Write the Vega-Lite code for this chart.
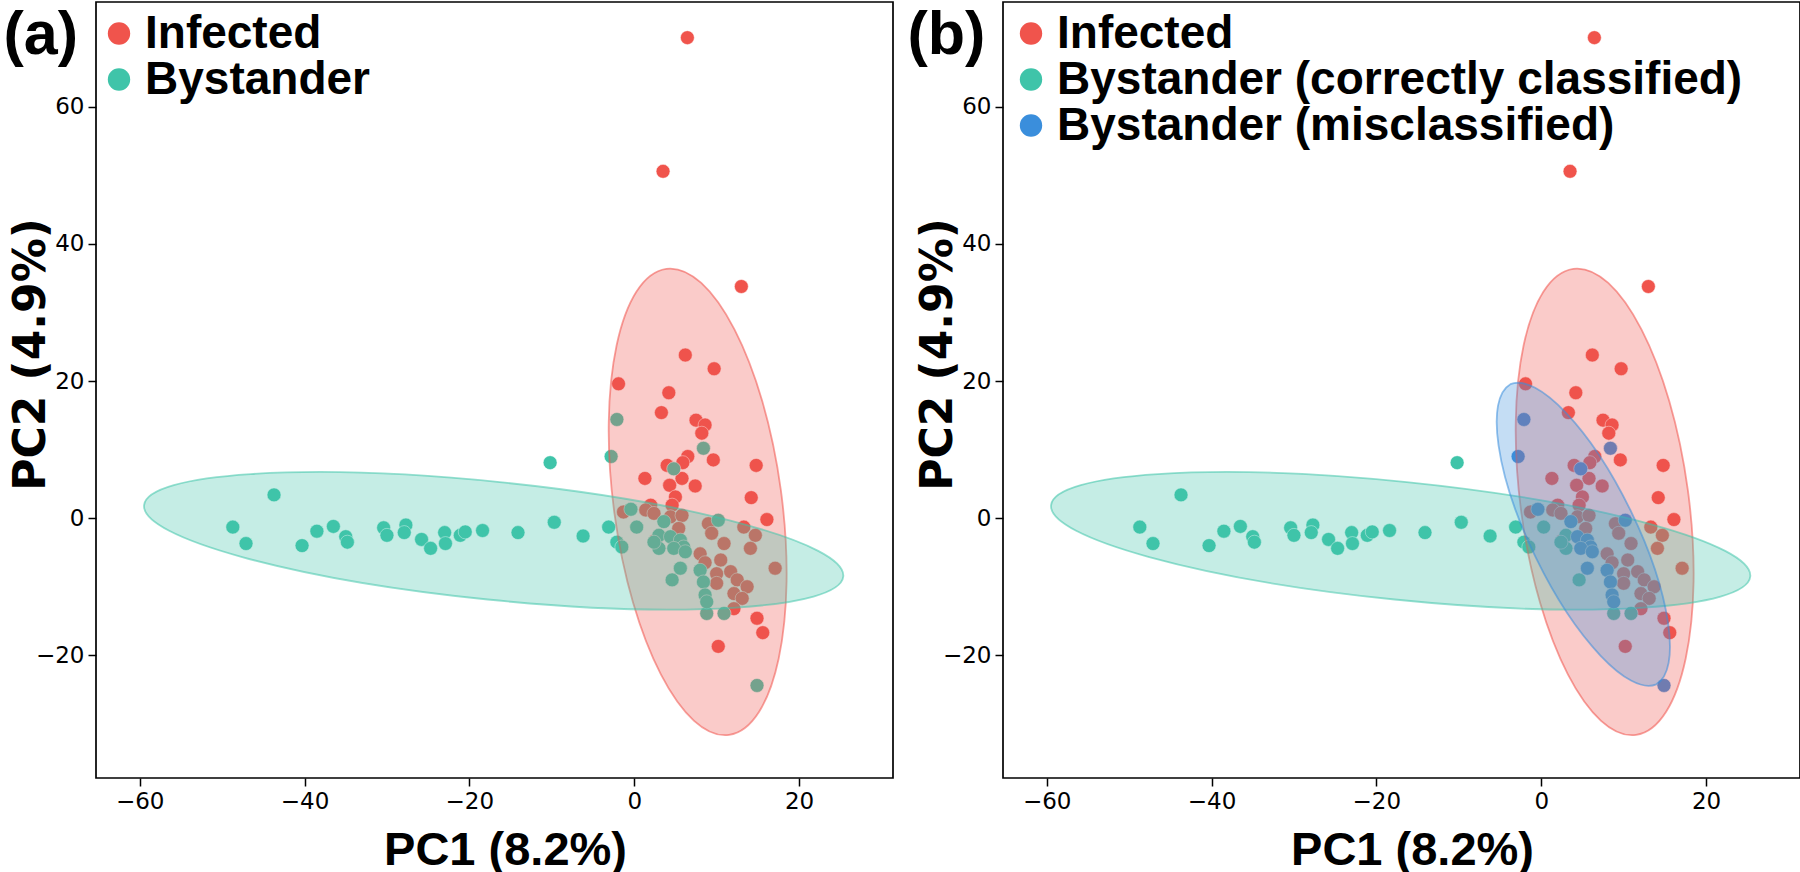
{
  "$schema": "https://vega.github.io/schema/vega-lite/v6.json",
  "background": "white",
  "padding": {"left": 2, "top": 1, "right": 0, "bottom": 0},
  "bounds": "flush",
  "spacing": 110,
  "config": {
    "view": {"stroke": "#000", "strokeWidth": 1.7},
    "axis": {"grid": false, "domain": false, "ticks": true, "tickColor": "#000", "tickSize": 8, "tickWidth": 1.5, "labelFont": "DejaVu Sans", "labelFontSize": 23, "labelColor": "#000", "labelPadding": 4, "titleColor": "#000", "titleFontWeight": "bold"},
    "legend": {"orient": "none", "title": null, "symbolType": "circle", "symbolSize": 500, "symbolOpacity": 1, "symbolStrokeWidth": 0, "labelFont": "Liberation Sans", "labelFontSize": 46, "labelFontWeight": "bold", "labelColor": "#000", "labelOffset": 3, "labelLimit": 0, "rowPadding": -2.5, "padding": 0}
  },
  "resolve": {"scale": {"color": "independent"}, "legend": {"color": "independent"}},
  "datasets": {
    "pts": [
      {"x":6.45,"y":70.1,"a":"Infected","b":"Infected"},
      {"x":3.5,"y":50.6,"a":"Infected","b":"Infected"},
      {"x":13.0,"y":33.8,"a":"Infected","b":"Infected"},
      {"x":6.2,"y":23.8,"a":"Infected","b":"Infected"},
      {"x":9.7,"y":21.8,"a":"Infected","b":"Infected"},
      {"x":-1.9,"y":19.6,"a":"Infected","b":"Infected"},
      {"x":4.2,"y":18.3,"a":"Infected","b":"Infected"},
      {"x":3.3,"y":15.4,"a":"Infected","b":"Infected"},
      {"x":7.5,"y":14.3,"a":"Infected","b":"Infected"},
      {"x":8.6,"y":13.6,"a":"Infected","b":"Infected"},
      {"x":8.2,"y":12.4,"a":"Infected","b":"Infected"},
      {"x":9.6,"y":8.5,"a":"Infected","b":"Infected"},
      {"x":6.5,"y":9.0,"a":"Infected","b":"Infected"},
      {"x":5.9,"y":8.1,"a":"Infected","b":"Infected"},
      {"x":4.0,"y":7.7,"a":"Infected","b":"Infected"},
      {"x":14.8,"y":7.7,"a":"Infected","b":"Infected"},
      {"x":1.3,"y":5.8,"a":"Infected","b":"Infected"},
      {"x":5.8,"y":5.8,"a":"Infected","b":"Infected"},
      {"x":4.3,"y":4.8,"a":"Infected","b":"Infected"},
      {"x":7.4,"y":4.7,"a":"Infected","b":"Infected"},
      {"x":14.2,"y":3.0,"a":"Infected","b":"Infected"},
      {"x":5.0,"y":3.1,"a":"Infected","b":"Infected"},
      {"x":4.6,"y":1.9,"a":"Infected","b":"Infected"},
      {"x":2.0,"y":1.9,"a":"Infected","b":"Infected"},
      {"x":16.1,"y":-0.2,"a":"Infected","b":"Infected"},
      {"x":-1.3,"y":0.9,"a":"Infected","b":"Infected"},
      {"x":1.4,"y":1.2,"a":"Infected","b":"Infected"},
      {"x":2.4,"y":0.7,"a":"Infected","b":"Infected"},
      {"x":4.4,"y":0.2,"a":"Infected","b":"Infected"},
      {"x":5.8,"y":0.4,"a":"Infected","b":"Infected"},
      {"x":9.0,"y":-0.8,"a":"Infected","b":"Infected"},
      {"x":9.4,"y":-2.2,"a":"Infected","b":"Infected"},
      {"x":13.3,"y":-1.3,"a":"Infected","b":"Infected"},
      {"x":14.7,"y":-2.5,"a":"Infected","b":"Infected"},
      {"x":14.1,"y":-4.4,"a":"Infected","b":"Infected"},
      {"x":10.9,"y":-3.7,"a":"Infected","b":"Infected"},
      {"x":2.6,"y":-3.2,"a":"Infected","b":"Infected"},
      {"x":8.0,"y":-5.2,"a":"Infected","b":"Infected"},
      {"x":8.6,"y":-6.5,"a":"Infected","b":"Infected"},
      {"x":10.5,"y":-6.1,"a":"Infected","b":"Infected"},
      {"x":17.1,"y":-7.3,"a":"Infected","b":"Infected"},
      {"x":10.0,"y":-8.1,"a":"Infected","b":"Infected"},
      {"x":11.7,"y":-7.8,"a":"Infected","b":"Infected"},
      {"x":12.5,"y":-9.0,"a":"Infected","b":"Infected"},
      {"x":13.7,"y":-10.0,"a":"Infected","b":"Infected"},
      {"x":12.1,"y":-11.0,"a":"Infected","b":"Infected"},
      {"x":10.0,"y":-9.5,"a":"Infected","b":"Infected"},
      {"x":13.1,"y":-11.7,"a":"Infected","b":"Infected"},
      {"x":12.1,"y":-13.2,"a":"Infected","b":"Infected"},
      {"x":14.9,"y":-14.6,"a":"Infected","b":"Infected"},
      {"x":15.6,"y":-16.7,"a":"Infected","b":"Infected"},
      {"x":10.2,"y":-18.7,"a":"Infected","b":"Infected"},
      {"x":5.4,"y":-1.5,"a":"Infected","b":"Infected"},
      {"x":-10.2,"y":8.1,"a":"Bystander","b":"Bystander (correctly classified)"},
      {"x":-43.7,"y":3.4,"a":"Bystander","b":"Bystander (correctly classified)"},
      {"x":-48.7,"y":-1.3,"a":"Bystander","b":"Bystander (correctly classified)"},
      {"x":-47.1,"y":-3.7,"a":"Bystander","b":"Bystander (correctly classified)"},
      {"x":-40.3,"y":-4.0,"a":"Bystander","b":"Bystander (correctly classified)"},
      {"x":-38.5,"y":-1.9,"a":"Bystander","b":"Bystander (correctly classified)"},
      {"x":-36.5,"y":-1.2,"a":"Bystander","b":"Bystander (correctly classified)"},
      {"x":-35.0,"y":-2.7,"a":"Bystander","b":"Bystander (correctly classified)"},
      {"x":-34.8,"y":-3.5,"a":"Bystander","b":"Bystander (correctly classified)"},
      {"x":-30.4,"y":-1.4,"a":"Bystander","b":"Bystander (correctly classified)"},
      {"x":-30.0,"y":-2.5,"a":"Bystander","b":"Bystander (correctly classified)"},
      {"x":-27.7,"y":-1.0,"a":"Bystander","b":"Bystander (correctly classified)"},
      {"x":-27.9,"y":-2.1,"a":"Bystander","b":"Bystander (correctly classified)"},
      {"x":-25.8,"y":-3.1,"a":"Bystander","b":"Bystander (correctly classified)"},
      {"x":-24.7,"y":-4.4,"a":"Bystander","b":"Bystander (correctly classified)"},
      {"x":-23.0,"y":-2.1,"a":"Bystander","b":"Bystander (correctly classified)"},
      {"x":-22.9,"y":-3.7,"a":"Bystander","b":"Bystander (correctly classified)"},
      {"x":-21.1,"y":-2.5,"a":"Bystander","b":"Bystander (correctly classified)"},
      {"x":-20.5,"y":-2.0,"a":"Bystander","b":"Bystander (correctly classified)"},
      {"x":-18.4,"y":-1.8,"a":"Bystander","b":"Bystander (correctly classified)"},
      {"x":-14.1,"y":-2.1,"a":"Bystander","b":"Bystander (correctly classified)"},
      {"x":-9.7,"y":-0.6,"a":"Bystander","b":"Bystander (correctly classified)"},
      {"x":-6.2,"y":-2.6,"a":"Bystander","b":"Bystander (correctly classified)"},
      {"x":-3.1,"y":-1.3,"a":"Bystander","b":"Bystander (correctly classified)"},
      {"x":0.3,"y":-1.3,"a":"Bystander","b":"Bystander (correctly classified)"},
      {"x":-2.1,"y":-3.5,"a":"Bystander","b":"Bystander (correctly classified)"},
      {"x":-1.5,"y":-4.2,"a":"Bystander","b":"Bystander (correctly classified)"},
      {"x":3.0,"y":-2.5,"a":"Bystander","b":"Bystander (correctly classified)"},
      {"x":3.0,"y":-4.4,"a":"Bystander","b":"Bystander (correctly classified)"},
      {"x":2.4,"y":-3.5,"a":"Bystander","b":"Bystander (correctly classified)"},
      {"x":4.6,"y":-9.0,"a":"Bystander","b":"Bystander (correctly classified)"},
      {"x":8.8,"y":-13.9,"a":"Bystander","b":"Bystander (correctly classified)"},
      {"x":10.9,"y":-13.9,"a":"Bystander","b":"Bystander (correctly classified)"},
      {"x":-2.1,"y":14.4,"a":"Bystander","b":"Bystander (misclassified)"},
      {"x":-2.8,"y":9.0,"a":"Bystander","b":"Bystander (misclassified)"},
      {"x":8.4,"y":10.2,"a":"Bystander","b":"Bystander (misclassified)"},
      {"x":4.8,"y":7.2,"a":"Bystander","b":"Bystander (misclassified)"},
      {"x":-0.4,"y":1.3,"a":"Bystander","b":"Bystander (misclassified)"},
      {"x":3.6,"y":-0.5,"a":"Bystander","b":"Bystander (misclassified)"},
      {"x":10.2,"y":-0.3,"a":"Bystander","b":"Bystander (misclassified)"},
      {"x":4.4,"y":-2.7,"a":"Bystander","b":"Bystander (misclassified)"},
      {"x":5.6,"y":-3.2,"a":"Bystander","b":"Bystander (misclassified)"},
      {"x":6.0,"y":-4.2,"a":"Bystander","b":"Bystander (misclassified)"},
      {"x":4.8,"y":-4.4,"a":"Bystander","b":"Bystander (misclassified)"},
      {"x":6.2,"y":-4.9,"a":"Bystander","b":"Bystander (misclassified)"},
      {"x":5.6,"y":-7.3,"a":"Bystander","b":"Bystander (misclassified)"},
      {"x":8.0,"y":-7.6,"a":"Bystander","b":"Bystander (misclassified)"},
      {"x":8.4,"y":-9.3,"a":"Bystander","b":"Bystander (misclassified)"},
      {"x":8.6,"y":-11.2,"a":"Bystander","b":"Bystander (misclassified)"},
      {"x":8.8,"y":-12.2,"a":"Bystander","b":"Bystander (misclassified)"},
      {"x":14.9,"y":-24.4,"a":"Bystander","b":"Bystander (misclassified)"}
    ],
    "e_inf": [{"x":7.70,"y":2.38}],
    "e_bys": [{"x":-17.05,"y":-3.30}],
    "e_mis": [{"x":5.11,"y":-2.35}]
  },
  "hconcat": [
    {
      "width": 797,
      "height": 776,
      "resolve": {"axis": {"x": "independent"}},
      "layer": [
        {
          "data": {"name": "pts"},
          "mark": {"type": "point", "filled": true, "size": 195, "opacity": 1, "stroke": "#fff", "strokeWidth": 0.8, "strokeOpacity": 0.7},
          "encoding": {
            "x": {"field": "x", "type": "quantitative", "scale": {"domain": [-65.3, 31.4], "nice": false, "zero": false},
                  "axis": {"values": [-60, -40, -20, 0, 20], "title": "PC1 (8.2%)", "titleFont": "Liberation Sans", "titleFontSize": 47, "titleX": 409, "titleY": 86, "titleAlign": "center", "titleBaseline": "alphabetic"}},
            "y": {"field": "y", "type": "quantitative", "scale": {"domain": [-37.9, 75.3], "nice": false, "zero": false},
                  "axis": {"values": [-20, 0, 20, 40, 60], "title": "PC2 (4.9%)", "titleFont": "DejaVu Sans", "titleFontSize": 44, "titleX": -52, "titleY": 352, "titleAngle": -90, "titleAlign": "center", "titleBaseline": "alphabetic"}},
            "color": {"field": "a", "type": "nominal", "scale": {"domain": ["Infected", "Bystander"], "range": ["#F0544C", "#3FC4A9"]},
                      "legend": {"orient": "none", "legendX": 0, "legendY": 8.5}}
          }
        },
        {
          "data": {"name": "e_inf"},
          "mark": {"type": "point", "shape": "M 31.35 233.1 A 235.2 84.3 82.34 0 1 -31.35 -233.1 A 235.2 84.3 82.34 0 1 31.35 233.1 Z", "size": 4, "filled": true, "fill": "#F0544C", "fillOpacity": 0.3, "stroke": "#F0544C", "strokeOpacity": 0.55, "strokeWidth": 1.8, "opacity": 1},
          "encoding": {
            "x": {"field": "x", "type": "quantitative", "axis": {"orient": "top", "title": "(a)", "labels": false, "ticks": false, "domain": false, "grid": false, "minExtent": 0, "titleX": -93, "titleY": 51, "titleAngle": 0, "titleAlign": "left", "titleBaseline": "alphabetic", "titleFont": "Liberation Sans", "titleFontSize": 61, "titleFontWeight": "bold", "titleColor": "#000"}},
            "y": {"field": "y", "type": "quantitative"}
          }
        },
        {
          "data": {"name": "e_bys"},
          "mark": {"type": "point", "shape": "M 349.6 35.69 A 351.4 59 5.83 0 1 -349.6 -35.69 A 351.4 59 5.83 0 1 349.6 35.69 Z", "size": 4, "filled": true, "fill": "#3FC4A9", "fillOpacity": 0.3, "stroke": "#3FC4A9", "strokeOpacity": 0.55, "strokeWidth": 1.8, "opacity": 1},
          "encoding": {"x": {"field": "x", "type": "quantitative", "axis": null}, "y": {"field": "y", "type": "quantitative"}}
        }
      ]
    },
    {
      "width": 797,
      "height": 776,
      "resolve": {"axis": {"x": "independent"}},
      "layer": [
        {
          "data": {"name": "pts"},
          "mark": {"type": "point", "filled": true, "size": 195, "opacity": 1, "stroke": "#fff", "strokeWidth": 0.8, "strokeOpacity": 0.7},
          "encoding": {
            "x": {"field": "x", "type": "quantitative", "scale": {"domain": [-65.3, 31.4], "nice": false, "zero": false},
                  "axis": {"values": [-60, -40, -20, 0, 20], "title": "PC1 (8.2%)", "titleFont": "Liberation Sans", "titleFontSize": 47, "titleX": 409, "titleY": 86, "titleAlign": "center", "titleBaseline": "alphabetic"}},
            "y": {"field": "y", "type": "quantitative", "scale": {"domain": [-37.9, 75.3], "nice": false, "zero": false},
                  "axis": {"values": [-20, 0, 20, 40, 60], "title": "PC2 (4.9%)", "titleFont": "DejaVu Sans", "titleFontSize": 44, "titleX": -52, "titleY": 352, "titleAngle": -90, "titleAlign": "center", "titleBaseline": "alphabetic"}},
            "color": {"field": "b", "type": "nominal", "scale": {"domain": ["Infected", "Bystander (correctly classified)", "Bystander (misclassified)"], "range": ["#F0544C", "#3FC4A9", "#3A8EDC"]},
                      "legend": {"orient": "none", "legendX": 5, "legendY": 8.5}}
          }
        },
        {
          "data": {"name": "e_inf"},
          "mark": {"type": "point", "shape": "M 31.35 233.1 A 235.2 84.3 82.34 0 1 -31.35 -233.1 A 235.2 84.3 82.34 0 1 31.35 233.1 Z", "size": 4, "filled": true, "fill": "#F0544C", "fillOpacity": 0.3, "stroke": "#F0544C", "strokeOpacity": 0.55, "strokeWidth": 1.8, "opacity": 1},
          "encoding": {
            "x": {"field": "x", "type": "quantitative", "axis": {"orient": "top", "title": "(b)", "labels": false, "ticks": false, "domain": false, "grid": false, "minExtent": 0, "titleX": -96, "titleY": 51, "titleAngle": 0, "titleAlign": "left", "titleBaseline": "alphabetic", "titleFont": "Liberation Sans", "titleFontSize": 61, "titleFontWeight": "bold", "titleColor": "#000"}},
            "y": {"field": "y", "type": "quantitative"}
          }
        },
        {
          "data": {"name": "e_bys"},
          "mark": {"type": "point", "shape": "M 349.6 35.69 A 351.4 59 5.83 0 1 -349.6 -35.69 A 351.4 59 5.83 0 1 349.6 35.69 Z", "size": 4, "filled": true, "fill": "#3FC4A9", "fillOpacity": 0.3, "stroke": "#3FC4A9", "strokeOpacity": 0.55, "strokeWidth": 1.8, "opacity": 1},
          "encoding": {"x": {"field": "x", "type": "quantitative", "axis": null}, "y": {"field": "y", "type": "quantitative"}}
        },
        {
          "data": {"name": "e_mis"},
          "mark": {"type": "point", "shape": "M 72.9 150.1 A 166.9 54 64.1 0 1 -72.9 -150.1 A 166.9 54 64.1 0 1 72.9 150.1 Z", "size": 4, "filled": true, "fill": "#3A8EDC", "fillOpacity": 0.3, "stroke": "#3A8EDC", "strokeOpacity": 0.55, "strokeWidth": 1.8, "opacity": 1},
          "encoding": {"x": {"field": "x", "type": "quantitative", "axis": null}, "y": {"field": "y", "type": "quantitative"}}
        }
      ]
    }
  ]
}
